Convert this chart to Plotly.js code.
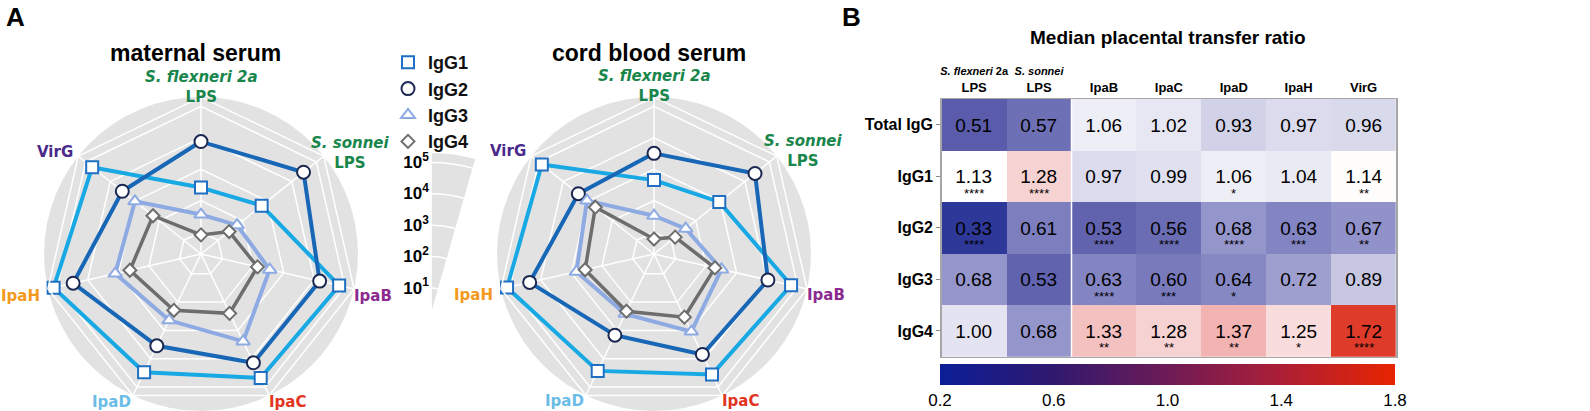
<!DOCTYPE html>
<html><head><meta charset="utf-8">
<script src="https://cdn.plot.ly/plotly-3.0.1.min.js"></script>
<style>html,body{margin:0;padding:0;background:#fff;overflow:hidden}</style>
</head><body><div id="chart" style="width:1590px;height:411px"></div>
<script>
// ---------------- DATA ----------------
const categories = ['S. flexneri 2a LPS', 'S. sonnei LPS', 'IpaB', 'IpaC', 'IpaD', 'IpaH', 'VirG'];
const subclasses = ['IgG1', 'IgG2', 'IgG3', 'IgG4'];

// median titers (maternal serum)
const maternal_IgG1 = [260, 590, 65000, 48000, 30000, 130000, 54000];
const maternal_IgG2 = [7600, 30000, 15000, 14000, 3500, 30000, 3200];
const maternal_IgG3 = [36, 59, 350, 2450, 440, 1260, 980];
const maternal_IgG4 = [8.1, 28, 140, 250, 195, 420, 180];

// median titers (cord blood serum)
const cord_IgG1 = [450, 910, 60000, 36000, 27000, 126000, 74000];
const cord_IgG2 = [3200, 26000, 10500, 7100, 1480, 23000, 2400];
const cord_IgG3 = [33, 39, 320, 1100, 260, 680, 1070];
const cord_IgG4 = [6.0, 14.5, 195, 340, 210, 355, 490];

const radialTickVals = [10, 100, 1000, 10000, 100000];
const radialTickText = ['10<sup>1</sup>', '10<sup>2</sup>', '10<sup>3</sup>', '10<sup>4</sup>', '10<sup>5</sup>'];

// heatmap
const heatRows = ['Total IgG', 'IgG1', 'IgG2', 'IgG3', 'IgG4'];
const heatColLabels = ['<span style="font-size:11px"><i>S. flexneri</i> 2a</span><br>LPS',
  '<span style="font-size:11px"><i>S. sonnei</i></span><br>LPS', 'IpaB', 'IpaC', 'IpaD', 'IpaH', 'VirG'];
const ratio_TotalIgG = [0.51, 0.57, 1.06, 1.02, 0.93, 0.97, 0.96];
const ratio_IgG1 = [1.13, 1.28, 0.97, 0.99, 1.06, 1.04, 1.14];
const ratio_IgG2 = [0.33, 0.61, 0.53, 0.56, 0.68, 0.63, 0.67];
const ratio_IgG3 = [0.68, 0.53, 0.63, 0.60, 0.64, 0.72, 0.89];
const ratio_IgG4 = [1.00, 0.68, 1.33, 1.28, 1.37, 1.25, 1.72];
const stars_TotalIgG = ['', '', '', '', '', '', ''];
const stars_IgG1 = ['****', '****', '', '', '*', '', '**'];
const stars_IgG2 = ['****', '', '****', '****', '****', '***', '**'];
const stars_IgG3 = ['', '', '****', '***', '*', '', ''];
const stars_IgG4 = ['', '', '**', '**', '**', '*', '****'];
const colorbarTicks = [0.2, 0.6, 1.0, 1.4, 1.8];

// ---------------- LAYOUT HELPERS ----------------
const W = 1590, H = 411;
const px = x => x / W;
const py = y => 1 - y / H;
const R = 157;
const ARIAL = 'Liberation Sans, Arial, sans-serif';
const VERD = 'DejaVu Sans, Verdana, sans-serif';

const radarStyles = [
  {line: '#18a9e4', mline: '#1f70c2', symbol: 'square', size: 12, width: 4},
  {line: '#1767b6', mline: '#1b2852', symbol: 'circle', size: 13, width: 4},
  {line: '#8eaae3', mline: '#8eaae3', symbol: 'triangle-up', size: 12, width: 4},
  {line: '#6d6d6d', mline: '#6d6d6d', symbol: 'diamond', size: 10, width: 3.5}
];

const close = a => a.concat([a[0]]);
const traces = [];
function addRadar(subplot, series, legend) {
  series.forEach((s, k) => {
    traces.push({type: 'scatterpolar', subplot: subplot, r: close(s), theta: close(categories),
      mode: 'lines', line: {color: radarStyles[k].line, width: radarStyles[k].width},
      showlegend: false, hoverinfo: 'skip'});
  });
  series.forEach((s, k) => {
    traces.push({type: 'scatterpolar', subplot: subplot, r: s, theta: categories, mode: 'markers',
      name: subclasses[k], legendgroup: subclasses[k], showlegend: legend,
      marker: {symbol: radarStyles[k].symbol, size: radarStyles[k].size, color: 'white',
               line: {color: radarStyles[k].mline, width: 2}}});
  });
}
addRadar('polar', [maternal_IgG1, maternal_IgG2, maternal_IgG3, maternal_IgG4], true);
addRadar('polar2', [cord_IgG1, cord_IgG2, cord_IgG3, cord_IgG4], false);

// scale key wedge: transparent helper so the key subplot is laid out
traces.push({type: 'scatterpolar', subplot: 'polar3', r: radialTickVals,
  theta: radialTickVals.map(() => 90), mode: 'markers',
  marker: {opacity: 0, size: 1}, showlegend: false, hoverinfo: 'skip'});

// heatmap
const zMatrix = [ratio_TotalIgG, ratio_IgG1, ratio_IgG2, ratio_IgG3, ratio_IgG4];
const starMatrix = [stars_TotalIgG, stars_IgG1, stars_IgG2, stars_IgG3, stars_IgG4];
const heatScale = [
  [0, '#14208a'], [0.08125, '#2e3899'], [0.19375, '#5a5cab'], [0.3, '#9495cb'],
  [0.43125, '#c7c7e2'], [0.5, '#e3e3f1'], [0.5375, '#eeeef6'], [0.58125, '#ffffff'],
  [0.65625, '#f9dcdc'], [0.73125, '#f2b3b3'], [0.95, '#df3b2a'], [1, '#d8220f']
];
const barScale = [[0, '#0b1e96'], [0.25, '#30196f'], [0.5, '#6d1b56'], [0.75, '#ac1f36'], [1, '#e82400']];
traces.push({type: 'heatmap', x: categories, y: heatRows, z: zMatrix, xaxis: 'x', yaxis: 'y',
  colorscale: heatScale, zmin: 0.2, zmax: 1.8, showscale: false, hoverinfo: 'skip',
  texttemplate: '%{z:.2f}', textfont: {family: ARIAL, size: 19, color: '#000'}});
traces.push({type: 'heatmap', x: categories, y: heatRows, z: zMatrix, xaxis: 'x', yaxis: 'y',
  colorscale: barScale, zmin: 0.2, zmax: 1.8, opacity: 0, hoverinfo: 'skip', showscale: true,
  colorbar: {orientation: 'h', x: px(1167.5), xanchor: 'center', y: py(364), yanchor: 'top',
    len: 455, lenmode: 'pixels', thickness: 21, outlinewidth: 0, xpad: 0, ypad: 0,
    tickmode: 'array', tickvals: colorbarTicks, ticktext: colorbarTicks.map(v => v.toFixed(1)),
    ticks: '', tickfont: {family: ARIAL, size: 17, color: '#000'}}});

function polarLayout(cx, cy) {
  return {
    domain: {x: [px(cx - R), px(cx + R)], y: [py(cy + R), py(cy - R)]},
    bgcolor: 'rgba(0,0,0,0)', gridshape: 'linear',
    angularaxis: {type: 'category', categoryorder: 'array', categoryarray: categories,
      direction: 'clockwise', rotation: 90, showticklabels: false, ticks: '',
      showline: true, linecolor: 'white', linewidth: 1.5, gridcolor: 'white', gridwidth: 1.5},
    radialaxis: {type: 'log', range: [0.3, 5.3], tickvals: radialTickVals, showticklabels: false,
      ticks: '', showline: false, gridcolor: 'white', gridwidth: 1.5}
  };
}

const annotations = [];
function ann(x, y, text, font, extra) {
  annotations.push(Object.assign({xref: 'paper', yref: 'paper', x: px(x), y: py(y), text: text,
    showarrow: false, xanchor: 'center', yanchor: 'middle', font: font}, extra || {}));
}
const radarLabels = ['<i>S. flexneri 2a</i><br>LPS', '<i>S. sonnei</i><br>LPS', 'IpaB', 'IpaC', 'IpaD', 'IpaH', 'VirG'];
const radarLabelColors = ['#18864b', '#18864b', '#8b2a8f', '#e2341e', '#6bbde6', '#f39a1e', '#4a2a8a'];
const labelOffsets = [[0, -171.5], [149, -105.5], [172, 38], [86, 144], [-90, 144], [-181, 38], [-146, -106]];
[[201, 258], [654, 257]].forEach(c => {
  radarLabels.forEach((t, i) => ann(c[0] + labelOffsets[i][0], c[1] + labelOffsets[i][1], t,
    {family: VERD, size: 15, weight: 'bold', color: radarLabelColors[i]}));
});
ann(195, 53, 'maternal serum', {family: ARIAL, size: 23, weight: 'bold', color: '#000'});
ann(649, 53, 'cord blood serum', {family: ARIAL, size: 23, weight: 'bold', color: '#000'});
ann(15, 17, 'A', {family: ARIAL, size: 26, weight: 'bold', color: '#000'});
ann(851, 17, 'B', {family: ARIAL, size: 26, weight: 'bold', color: '#000'});
ann(1168, 37, 'Median placental transfer ratio', {family: ARIAL, size: 19, weight: 'bold', color: '#000'});

// significance stars
starMatrix.forEach((row, i) => row.forEach((s, j) => {
  if (s) annotations.push({xref: 'x', yref: 'y', x: categories[j], y: heatRows[i], text: s,
    showarrow: false, yshift: -17, font: {family: ARIAL, size: 13, color: '#000'}});
}));

const layout = {
  width: W, height: H, margin: {l: 0, r: 0, t: 0, b: 0}, paper_bgcolor: '#fff',
  showlegend: true,
  legend: {x: px(388), y: py(44), xanchor: 'left', yanchor: 'top', bgcolor: 'rgba(0,0,0,0)',
    font: {family: ARIAL, size: 18, weight: 'bold', color: '#111'}, tracegroupgap: 0, traceorder: 'normal'},
  polar: polarLayout(201, 254),
  polar2: polarLayout(654, 254),
  polar3: {
    domain: {x: [px(431), px(476)], y: [py(310), py(153)]},
    sector: [74, 90], bgcolor: '#e2e2e2', gridshape: 'circular',
    angularaxis: {type: 'linear', direction: 'counterclockwise', rotation: 0, showticklabels: false,
      ticks: '', showline: false, showgrid: false},
    radialaxis: {type: 'log', range: [0.3, 5.3], tickmode: 'array', tickvals: radialTickVals,
      ticktext: radialTickText, angle: 90, side: 'counterclockwise', tickangle: 90, ticks: '',
      showline: false, gridcolor: 'white', gridwidth: 1.5,
      tickfont: {family: ARIAL, size: 17, weight: 'bold', color: '#000'}}
  },
  xaxis: {domain: [px(941.7), px(1396)], anchor: 'y', side: 'top', type: 'category',
    tickmode: 'array', tickvals: categories, ticktext: heatColLabels, ticks: '', tickangle: 0,
    tickfont: {family: ARIAL, size: 13, weight: 'bold', color: '#000'},
    showline: true, mirror: true, linecolor: '#a6a6a6', linewidth: 1.5, showgrid: false, zeroline: false},
  yaxis: {domain: [py(356.7), py(99)], anchor: 'x', type: 'category', autorange: 'reversed',
    ticks: 'outside', ticklen: 4, tickcolor: '#888',
    tickfont: {family: ARIAL, size: 16, weight: 'bold', color: '#000'},
    showline: true, mirror: true, linecolor: '#a6a6a6', linewidth: 1.5, showgrid: false, zeroline: false},
  shapes: [
    {type: 'circle', xref: 'paper', yref: 'paper', x0: px(201 - R), x1: px(201 + R), y0: py(254 + R), y1: py(254 - R),
     fillcolor: '#e2e2e2', line: {width: 0}, layer: 'below'},
    {type: 'circle', xref: 'paper', yref: 'paper', x0: px(654 - R), x1: px(654 + R), y0: py(254 + R), y1: py(254 - R),
     fillcolor: '#e2e2e2', line: {width: 0}, layer: 'below'},
    {type: 'line', xref: 'x', yref: 'y domain', x0: 1.5, x1: 1.5, y0: 0, y1: 1, line: {color: 'white', width: 1.5}}
  ],
  annotations: annotations
};

Plotly.newPlot('chart', traces, layout, {displayModeBar: false, staticPlot: true});
</script>
</body></html>
